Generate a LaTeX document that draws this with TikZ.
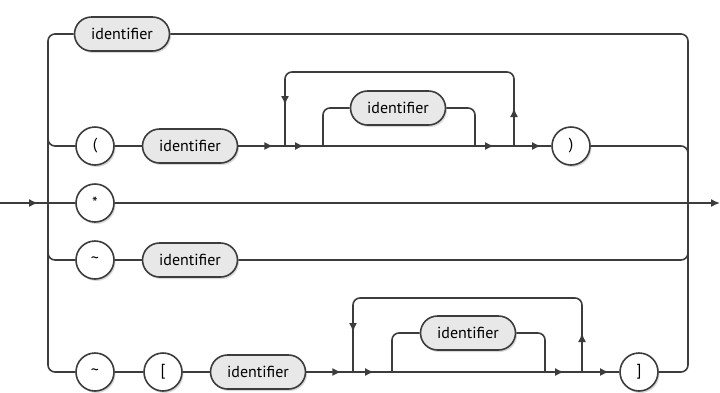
\documentclass[tikz,border=0pt]{standalone}
\usepackage{fontspec}
\setmainfont{PT Sans}
\usetikzlibrary{shapes.misc,shadows,decorations.markings,arrows.meta}
\definecolor{ln}{HTML}{3C3C3C}
\begin{document}
\begin{tikzpicture}[x=1pt,y=-1pt,
  line/.style={draw=ln, line width=1.6pt},
  rc/.style={rounded corners=7pt},
  shad/.style={drop shadow={opacity=0.3,shadow xshift=1.5pt,shadow yshift=-2pt}},
  term/.style={circle, draw=ln, line width=1.6pt, fill=white, minimum size=38pt, inner sep=0pt, font=\fontsize{16}{16}\selectfont, shad},
  nterm/.style={rounded rectangle, draw=ln, line width=1.6pt, fill=gray!18, minimum width=95pt, minimum height=34pt, inner sep=0pt, font=\fontsize{16}{16}\selectfont, shad},
  ar/.style={postaction={decorate, decoration={markings, mark=at position #1 with {\arrow{Latex[length=9pt,width=8pt]}}}}}
]
\useasboundingbox (0,0) rectangle (720,392);
% nodes
\node[nterm] (id1) at (122,34) {identifier};
\node[term] (lp) at (95,146) {(};
\node[nterm] (id2) at (190,146) {identifier};
\node[nterm] (id3) at (398,108) {identifier};
\node[term] (rp) at (571,146) {)};
\node[term] (st) at (95,203) {*};
\node[term] (tl1) at (95,260) {\char"7E};
\node[nterm] (id6) at (190,260) {identifier};
\node[term] (tl2) at (95,372) {\char"7E};
\node[term] (lb) at (163,372) {[};
\node[nterm] (id4) at (258,372) {identifier};
\node[nterm] (id5) at (468,333) {identifier};
\node[term] (rb) at (639,372) {]};
% coordinates
\coordinate (in) at (0,203);
\coordinate (lmid) at (48,203);
\coordinate (rmid) at (688,203);
\coordinate (out) at (720,203);
\coordinate (lb1) at (48,34);
\coordinate (lb2) at (48,136);
\coordinate (lb4) at (48,250);
\coordinate (lb5) at (48,372);
\coordinate (rb1) at (688,34);
\coordinate (rb2) at (688,156);
\coordinate (rb4) at (688,250);
\coordinate (rb5) at (688,372);
\coordinate (L2) at (285,146);
\coordinate (A2) at (323,146);
\coordinate (B2) at (475,146);
\coordinate (R2) at (514,146);
\coordinate (T2r) at (514,72);
\coordinate (T2l) at (285,72);
\coordinate (L5) at (353,372);
\coordinate (A5) at (392,372);
\coordinate (B5) at (545,372);
\coordinate (R5) at (582,372);
\coordinate (T5r) at (582,298);
\coordinate (T5l) at (353,298);
% entry / exit
\draw[line, ar=38pt] (in) -- (lmid);
\draw[line, -{Latex[length=9pt,width=8pt]}] (rmid) -- (out);
% left bar
\draw[line, rc] (id1.west) -- (lb1) -- (lb5) -- (tl2.west);
\draw[line, rc] (lb2) |- (lp.west);
\draw[line] (lmid) -- (st.west);
\draw[line, rc] (lb4) |- (tl1.west);
% right bar
\draw[line, rc] (id1.east) -- (rb1) -- (rb5) -- (rb.east);
\draw[line, rc] (rp.east) -| (rb2);
\draw[line] (st.east) -- (rmid);
\draw[line, rc] (id6.east) -| (rb4);
% row 2
\draw[line] (lp) -- (id2);
\draw[line, ar=35pt] (id2.east) -- (L2);
\draw[line, ar=19pt] (L2) -- (A2);
\draw[line] (A2) -- (B2);
\draw[line, rc] (A2) |- (id3.west);
\draw[line, rc] (id3.east) -| (B2);
\draw[line, ar=19pt] (B2) -- (R2);
\draw[line, rc, ar=38pt, ar=-41pt] (R2) -- (T2r) -- (T2l) -- (L2);
\draw[line, ar=27pt] (R2) -- (rp.west);
% row 4
\draw[line] (tl1) -- (id6);
% row 5
\draw[line] (tl2) -- (lb);
\draw[line] (lb) -- (id4);
\draw[line, ar=35pt] (id4.east) -- (L5);
\draw[line, ar=21pt] (L5) -- (A5);
\draw[line] (A5) -- (B5);
\draw[line, rc] (A5) |- (id5.west);
\draw[line, rc] (id5.east) -| (B5);
\draw[line, ar=19pt] (B5) -- (R5);
\draw[line, rc, ar=39pt, ar=-40pt] (R5) -- (T5r) -- (T5l) -- (L5);
\draw[line, ar=27pt] (R5) -- (rb.west);
\end{tikzpicture}
\end{document}
